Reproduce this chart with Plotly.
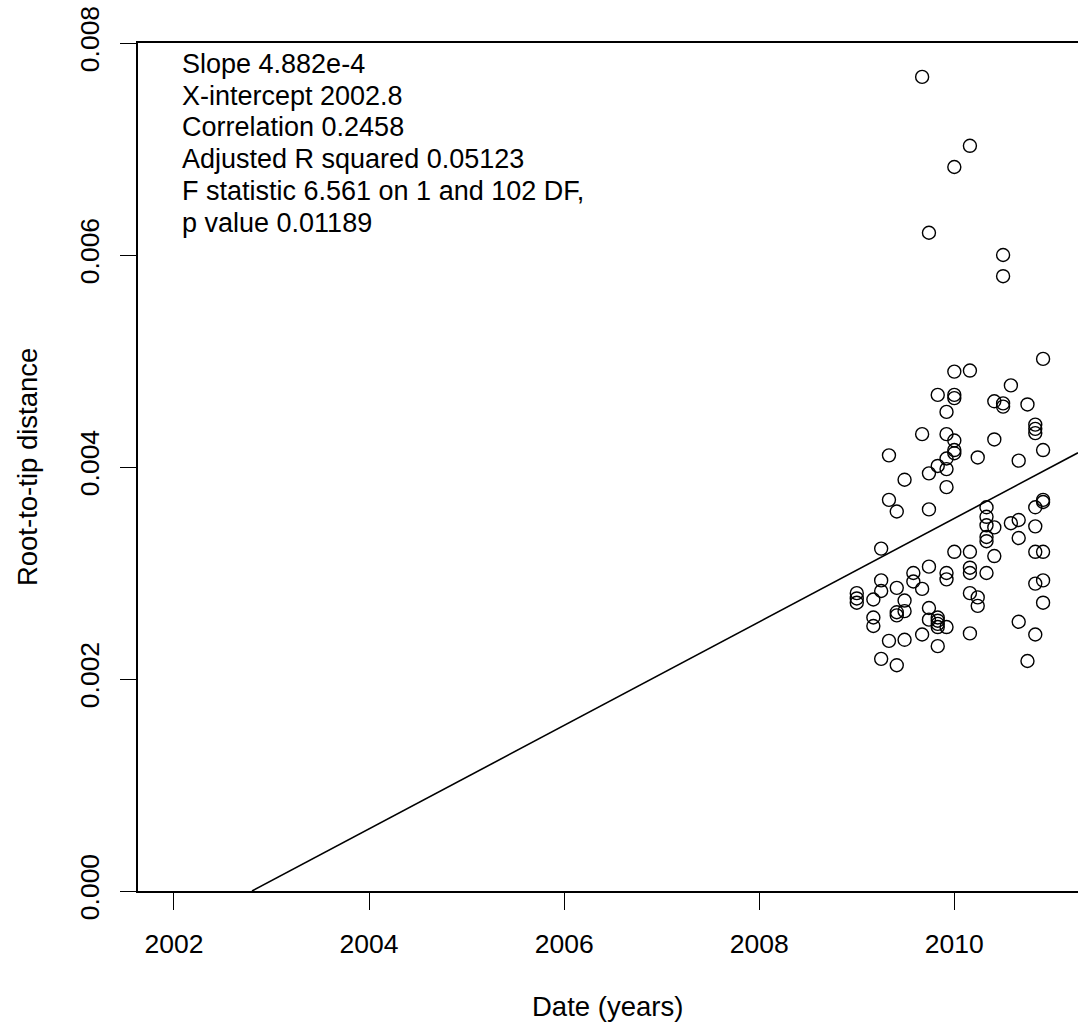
import plotly.graph_objects as go

# Sampling dates (decimal years) and root-to-tip distances
dates = [
    2010.91, 2010.00, 2010.16, 2010.58, 2009.83, 2010.00, 2010.00, 2010.41, 2010.50, 2010.50,
    2010.75, 2009.92, 2010.83, 2010.83, 2010.83, 2009.67, 2009.92, 2010.00, 2010.00, 2010.00,
    2010.41, 2010.91, 2009.33, 2010.24, 2009.92, 2010.66, 2009.83, 2009.74, 2009.92, 2009.49,
    2009.92, 2009.33, 2009.41, 2009.74, 2010.33, 2010.33, 2010.33, 2010.41, 2010.58, 2010.66,
    2010.83, 2010.91, 2010.91, 2010.83, 2010.33, 2010.66, 2010.33, 2009.25, 2010.00, 2010.16,
    2010.83, 2010.91, 2010.41, 2009.74, 2009.58, 2009.58, 2009.92, 2009.92, 2010.16, 2010.16,
    2010.33, 2009.25, 2009.25, 2009.41, 2009.67, 2009.00, 2009.00, 2009.00, 2009.17, 2009.49,
    2010.16, 2010.24, 2010.24, 2010.83, 2010.91, 2010.91, 2009.74, 2009.41, 2009.41, 2009.49,
    2009.17, 2009.17, 2009.74, 2009.83, 2009.83, 2009.83, 2009.83, 2009.92, 2009.67, 2010.16,
    2010.66, 2010.83, 2009.33, 2009.49, 2009.83, 2009.25, 2009.41, 2010.75, 2009.67, 2010.16,
    2010.00, 2009.74, 2010.50, 2010.50,
]
distances = [
    0.00502, 0.00490, 0.00491, 0.00477, 0.00468, 0.00468, 0.00465, 0.00462, 0.00460, 0.00457,
    0.00459, 0.00452, 0.00440, 0.00436, 0.00432, 0.00431, 0.00431, 0.00425, 0.00416, 0.00413,
    0.00426, 0.00416, 0.00411, 0.00409, 0.00408, 0.00406, 0.00401, 0.00394, 0.00398, 0.00388,
    0.00381, 0.00369, 0.00358, 0.00360, 0.00362, 0.00353, 0.00345, 0.00343, 0.00347, 0.00350,
    0.00362, 0.00369, 0.00367, 0.00344, 0.00334, 0.00333, 0.00330, 0.00323, 0.00320, 0.00320,
    0.00320, 0.00320, 0.00316, 0.00306, 0.00300, 0.00292, 0.00300, 0.00294, 0.00305, 0.00300,
    0.00300, 0.00293, 0.00283, 0.00286, 0.00285, 0.00281, 0.00276, 0.00272, 0.00275, 0.00274,
    0.00281, 0.00277, 0.00269, 0.00290, 0.00293, 0.00272, 0.00267, 0.00263, 0.00260, 0.00264,
    0.00258, 0.00250, 0.00256, 0.00258, 0.00255, 0.00252, 0.00249, 0.00249, 0.00242, 0.00243,
    0.00254, 0.00242, 0.00236, 0.00237, 0.00231, 0.00219, 0.00213, 0.00217, 0.00768, 0.00703,
    0.00683, 0.00621, 0.00600, 0.00580,
]

# Regression parameters
slope = 4.882e-4
x_intercept = 2002.8

stats_lines = [
    "Slope 4.882e-4",
    "X-intercept 2002.8",
    "Correlation 0.2458",
    "Adjusted R squared 0.05123",
    "F statistic 6.561 on 1 and 102 DF,",
    "p value 0.01189",
]

x_ticks = [2002, 2004, 2006, 2008, 2010]
y_ticks = [0.000, 0.002, 0.004, 0.006, 0.008]
y_tick_text = ["0.000", "0.002", "0.004", "0.006", "0.008"]

x_range = [2001.631, 2011.268]
y_range = [0.0, 0.008]

FONT = "Liberation Sans, Arial, Helvetica, sans-serif"

fig = go.Figure()

line_x = [x_intercept, x_range[1]]
line_y = [slope * (v - x_intercept) for v in line_x]
fig.add_trace(go.Scatter(
    x=line_x, y=line_y, mode="lines",
    line=dict(color="black", width=1.6),
    showlegend=False, hoverinfo="skip",
))

fig.add_trace(go.Scatter(
    x=dates, y=distances, mode="markers",
    marker=dict(symbol="circle-open", size=13, color="black",
                line=dict(color="black", width=1.4)),
    showlegend=False,
))

annotations = []
for i, t in enumerate(stats_lines):
    annotations.append(dict(
        text=t, xref="paper", yref="paper",
        x=0.0445, y=0.9752 - i * 0.03738,
        xanchor="left", yanchor="middle", showarrow=False,
        font=dict(family=FONT, size=27, color="black"),
    ))

annotations.append(dict(
    text="Date (years)", xref="paper", yref="paper",
    x=0.4995, y=-0.1357, xanchor="center", yanchor="middle",
    showarrow=False, font=dict(family=FONT, size=27.5, color="black"),
))
annotations.append(dict(
    text="Root-to-tip distance", xref="paper", yref="paper",
    x=-0.118, y=0.5, xanchor="center", yanchor="middle", textangle=-90,
    showarrow=False, font=dict(family=FONT, size=27.5, color="black"),
))

fig.update_layout(
    width=1078, height=1026,
    margin=dict(l=138, r=0, t=43, b=135),
    paper_bgcolor="white", plot_bgcolor="white",
    font=dict(family=FONT, size=27, color="black"),
    annotations=annotations,
    xaxis=dict(
        range=x_range, tickvals=x_ticks, ticktext=[str(v) for v in x_ticks],
        showgrid=False, zeroline=False,
        showline=True, linecolor="black", linewidth=1.6, mirror=True,
        ticks="outside", ticklen=17, tickwidth=1.4, tickcolor="black",
        ticklabelstandoff=11,
        tickfont=dict(family=FONT, size=26.5, color="black"),
    ),
    yaxis=dict(
        range=y_range, tickvals=y_ticks, ticktext=y_tick_text,
        showgrid=False, zeroline=False,
        showline=True, linecolor="black", linewidth=1.6,
        ticks="outside", ticklen=16, tickwidth=1.4, tickcolor="black",
        tickangle=-90, ticklabelstandoff=11,
        tickfont=dict(family=FONT, size=26.5, color="black"),
    ),
)

# Remove the browser's default body margin so the figure sits at the page origin
fig.write_html(
    "out.html",
    config={"displayModeBar": False},
    post_script="document.body.style.margin='0';document.body.style.padding='0';"
                "document.body.style.overflow='hidden';",
)
